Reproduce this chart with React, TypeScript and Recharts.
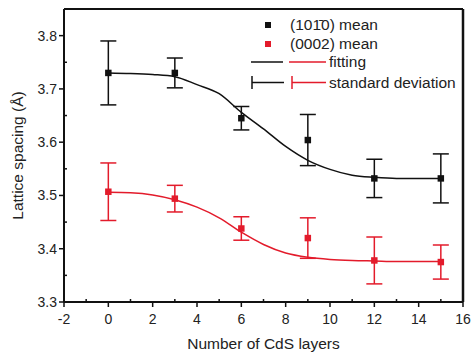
import React from 'react';
import {
  ComposedChart, Scatter, Line, XAxis, YAxis, ZAxis, ErrorBar, ReferenceLine, Label,
} from 'recharts';

// measured points
const layers = [0, 3, 6, 9, 12, 15];
const mean1010 = [3.730, 3.730, 3.645, 3.604, 3.532, 3.532];
const sd1010 = [0.060, 0.028, 0.022, 0.048, 0.036, 0.046];
const mean0002 = [3.507, 3.494, 3.438, 3.420, 3.378, 3.375];
const sd0002 = [0.054, 0.025, 0.022, 0.038, 0.044, 0.032];

// fitted curves
const fitLayers = [0, 1, 2, 3, 4, 5, 6, 7, 8, 9, 10, 11, 12, 13, 14, 15];
const fit1010 = [3.730, 3.729, 3.727, 3.723, 3.708, 3.691, 3.656, 3.625, 3.592, 3.566, 3.549, 3.538, 3.534, 3.532, 3.532, 3.532];
const fit0002 = [3.506, 3.505, 3.501, 3.492, 3.478, 3.458, 3.431, 3.408, 3.392, 3.384, 3.380, 3.378, 3.377, 3.376, 3.376, 3.376];

const xTicks = [-2, -1, 0, 1, 2, 3, 4, 5, 6, 7, 8, 9, 10, 11, 12, 13, 14, 15, 16];
const yTicks = [3.3, 3.35, 3.4, 3.45, 3.5, 3.55, 3.6, 3.65, 3.7, 3.75, 3.8];

const BLACK = '#111111';
const RED = '#e31b2b';
const FONT = '"Liberation Sans", Arial, sans-serif';

const pts1010 = layers.map((x, i) => ({ x, y: mean1010[i], err: sd1010[i] }));
const pts0002 = layers.map((x, i) => ({ x, y: mean0002[i], err: sd0002[i] }));
const line1010 = fitLayers.map((x, i) => ({ x, y: fit1010[i] }));
const line0002 = fitLayers.map((x, i) => ({ x, y: fit0002[i] }));

const XTick = (props: any) => {
  const { x, y, payload } = props;
  const major = payload.value % 2 === 0;
  return (
    <g>
      {major
        ? <line x1={x} x2={x} y1={y} y2={y + 5} stroke={BLACK} strokeWidth={1.5} />
        : <line x1={x} x2={x} y1={y} y2={y - 3} stroke={BLACK} strokeWidth={1.5} />}
      {major && (
        <text x={x} y={y + 22} textAnchor="middle" fontSize={14} fill="#222" fontFamily={FONT}>
          {payload.value}
        </text>
      )}
    </g>
  );
};

const YTick = (props: any) => {
  const { x, y, payload } = props;
  const major = Math.round(payload.value * 100) % 10 === 0;
  return (
    <g>
      {major
        ? <line x1={x - 5} x2={x} y1={y} y2={y} stroke={BLACK} strokeWidth={1.5} />
        : <line x1={x} x2={x + 3} y1={y} y2={y} stroke={BLACK} strokeWidth={1.5} />}
      {major && (
        <text x={x - 7} y={y + 5} textAnchor="end" fontSize={14} fill="#222" fontFamily={FONT}>
          {payload.value.toFixed(1)}
        </text>
      )}
    </g>
  );
};

// legend drawn by hand, top right inside the frame
const LegendBox = () => (
  <svg width={471} height={359} style={{ position: 'absolute', left: 0, top: 0, pointerEvents: 'none' }}>
    <g fontFamily={FONT} fontSize={15.5} fill="#222">
      <rect x={265} y={22} width={6} height={6} fill={BLACK} />
      <text x={290} y={30}>(101{'\u0304'}0) mean</text>
      <rect x={265} y={41} width={6} height={6} fill={RED} />
      <text x={290} y={49}>(0002) mean</text>
      <line x1={251} x2={283} y1={62} y2={62} stroke={BLACK} strokeWidth={1.5} />
      <line x1={289} x2={326} y1={62} y2={62} stroke={RED} strokeWidth={1.5} />
      <text x={329} y={67}>fitting</text>
      <line x1={252} x2={252} y1={76} y2={89} stroke={BLACK} strokeWidth={1.5} />
      <line x1={252} x2={284} y1={82.5} y2={82.5} stroke={BLACK} strokeWidth={1.5} />
      <line x1={292} x2={292} y1={76} y2={89} stroke={RED} strokeWidth={1.5} />
      <line x1={292} x2={326} y1={82.5} y2={82.5} stroke={RED} strokeWidth={1.5} />
      <text x={329} y={88}>standard deviation</text>
    </g>
  </svg>
);

export default function App() {
  return (
    <div style={{ position: 'absolute', left: 0, top: 0, width: 471, height: 359, background: '#fff' }}>
      <ComposedChart width={471} height={359} margin={{ top: 9, right: 8, bottom: 0, left: 0 }}>
        <XAxis
          type="number"
          dataKey="x"
          domain={[-2, 16]}
          ticks={xTicks}
          interval={0}
          tickSize={0}
          tickMargin={0}
          tickLine={false}
          tick={<XTick />}
          height={57}
          axisLine={{ stroke: BLACK, strokeWidth: 2 }}
          allowDataOverflow
        >
          <Label
            value="Number of CdS layers"
            position="insideBottom"
            offset={10}
            style={{ fontFamily: FONT, fontSize: 15.5, fill: '#222' }}
          />
        </XAxis>
        <YAxis
          type="number"
          dataKey="y"
          domain={[3.3, 3.85]}
          ticks={yTicks}
          interval={0}
          tickSize={0}
          tickMargin={0}
          tickLine={false}
          tick={<YTick />}
          width={64}
          axisLine={{ stroke: BLACK, strokeWidth: 2 }}
          allowDataOverflow
        >
          <Label
            value="Lattice spacing (Å)"
            angle={-90}
            position="insideLeft"
            offset={17}
            style={{ fontFamily: FONT, fontSize: 15.5, fill: '#222', textAnchor: 'middle' }}
          />
        </YAxis>
        <ZAxis range={[42, 42]} />
        <ReferenceLine y={3.85} stroke={BLACK} strokeWidth={2} />
        <ReferenceLine x={16} stroke={BLACK} strokeWidth={2.5} />
        <Line data={line1010} dataKey="y" type="monotone" stroke={BLACK} strokeWidth={1.5} dot={false} isAnimationActive={false} />
        <Line data={line0002} dataKey="y" type="monotone" stroke={RED} strokeWidth={1.5} dot={false} isAnimationActive={false} />
        <Scatter data={pts1010} dataKey="y" fill={BLACK} shape="square" isAnimationActive={false}>
          <ErrorBar dataKey="err" direction="y" width={8} stroke={BLACK} strokeWidth={1.5} />
        </Scatter>
        <Scatter data={pts0002} dataKey="y" fill={RED} shape="square" isAnimationActive={false}>
          <ErrorBar dataKey="err" direction="y" width={8} stroke={RED} strokeWidth={1.5} />
        </Scatter>
      </ComposedChart>
      <LegendBox />
    </div>
  );
}
